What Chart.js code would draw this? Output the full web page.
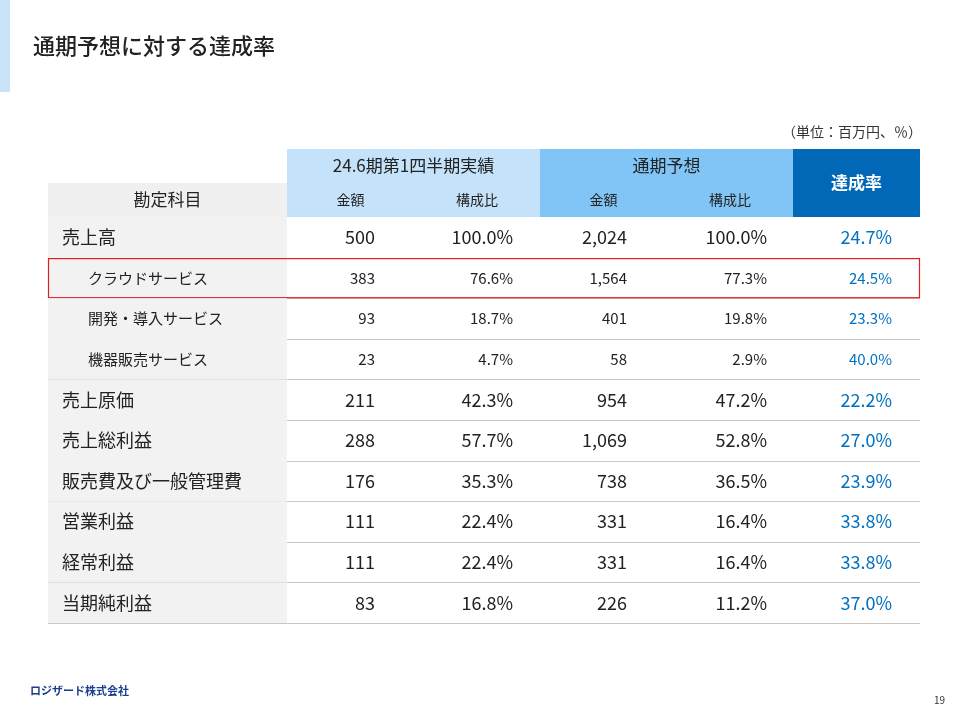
<!DOCTYPE html>
<html><head><meta charset="utf-8">
<script src="https://cdn.jsdelivr.net/npm/chart.js@4"></script>
<style>html,body{margin:0;padding:0;background:#fff}</style>
</head><body>
<canvas id="c" width="960" height="720"></canvas>
<script>
const title = "通期予想に対する達成率";
const unitNote = "（単位：百万円、％）";
const groupHeaders = ["24.6期第1四半期実績", "通期予想", "達成率"];
const subHeaders = ["勘定科目", "金額", "構成比", "金額", "構成比"];
const categories = ["売上高","クラウドサービス","開発・導入サービス","機器販売サービス","売上原価","売上総利益","販売費及び一般管理費","営業利益","経常利益","当期純利益"];
const isSub = [false,true,true,true,false,false,false,false,false,false];
const q1Amount = [500,383,93,23,211,288,176,111,111,83];
const q1Ratio = [100.0,76.6,18.7,4.7,42.3,57.7,35.3,22.4,22.4,16.8];
const fyAmount = [2024,1564,401,58,954,1069,738,331,331,226];
const fyRatio = [100.0,77.3,19.8,2.9,47.2,52.8,36.5,16.4,16.4,11.2];
const achieve = [24.7,24.5,23.3,40.0,22.2,27.0,23.9,33.8,33.8,37.0];
const highlightRow = "クラウドサービス";

const F = '"Noto Sans CJK JP","Noto Sans",sans-serif';
const fmtInt = v => v.toLocaleString('en-US');
const fmtPct = v => v.toFixed(1) + '%';

const tablePlugin = {
  id: 'table',
  afterDraw(chart) {
    const ctx = chart.ctx, y = chart.scales.y, a = chart.chartArea;
    const L = a.left, R = a.right;
    const cols = [L, 287, 414, 540, 667, 793, R]; // column edges
    const rowH = (a.bottom - a.top) / categories.length;
    ctx.save();
    // title area
    ctx.fillStyle = '#c9e4f8'; ctx.fillRect(0, 0, 10, 92);
    ctx.fillStyle = '#222'; ctx.font = '500 22px ' + F; ctx.textBaseline = 'middle';
    ctx.fillText(title, 33, 46);
    ctx.font = '14px ' + F; ctx.textAlign = 'right'; ctx.fillStyle = '#333';
    ctx.fillText(unitNote, 922, 132);
    // headers
    const h0 = 149, h1 = 183, h2 = a.top;
    ctx.fillStyle = '#c4e2f9'; ctx.fillRect(cols[1], h0, cols[3]-cols[1], h2-h0);
    ctx.fillStyle = '#80c5f5'; ctx.fillRect(cols[3], h0, cols[5]-cols[3], h2-h0);
    ctx.fillStyle = '#0068b7'; ctx.fillRect(cols[5], h0, cols[6]-cols[5], h2-h0);
    ctx.fillStyle = '#f0f0f0'; ctx.fillRect(cols[0], h1, cols[1]-cols[0], h2-h1);
    ctx.textAlign = 'center'; ctx.fillStyle = '#222';
    ctx.font = '17px ' + F;
    ctx.fillText(groupHeaders[0], (cols[1]+cols[3])/2, 166);
    ctx.fillText(groupHeaders[1], (cols[3]+cols[5])/2, 166);
    ctx.fillText(subHeaders[0], (cols[0]+cols[1])/2, 200);
    ctx.font = '14px ' + F;
    for (let i = 1; i <= 4; i++) ctx.fillText(subHeaders[i], (cols[i]+cols[i+1])/2, 200);
    ctx.fillStyle = '#fff'; ctx.font = 'bold 17px ' + F;
    ctx.fillText(groupHeaders[2], (cols[5]+cols[6])/2, 183);
    // rows
    categories.forEach((cat, i) => {
      const cy = y.getPixelForValue(i);
      const top = cy - rowH/2, bot = cy + rowH/2;
      ctx.fillStyle = '#f2f2f2'; ctx.fillRect(cols[0], top, cols[1]-cols[0], rowH);
      ctx.strokeStyle = '#c8c8c8'; ctx.lineWidth = 1;
      ctx.beginPath(); ctx.moveTo(L, Math.round(bot)+0.5); ctx.lineTo(R, Math.round(bot)+0.5); ctx.stroke();
      const sub = isSub[i];
      const fs = sub ? 15 : 18;
      ctx.font = fs + 'px ' + F; ctx.fillStyle = '#222'; ctx.textAlign = 'left';
      ctx.fillText(cat, sub ? 88 : 62, cy);
      ctx.textAlign = 'right';
      ctx.fillText(fmtInt(q1Amount[i]), 375, cy);
      ctx.fillText(fmtPct(q1Ratio[i]), 513, cy);
      ctx.fillText(fmtInt(fyAmount[i]), 627, cy);
      ctx.fillText(fmtPct(fyRatio[i]), 767, cy);
      ctx.fillStyle = '#0070c0';
      ctx.fillText(fmtPct(achieve[i]), 892, cy);
      if (cat === highlightRow) {
        ctx.strokeStyle = '#e02020'; ctx.lineWidth = 1.2;
        ctx.strokeRect(L+0.5, top+1, R-L-1, rowH-1.5);
      }
    });
    // footer
    ctx.textAlign = 'left'; ctx.fillStyle = '#1a3f8f'; ctx.font = 'bold 11px ' + F;
    ctx.fillText('ロジザード株式会社', 30, 691);
    ctx.textAlign = 'right'; ctx.fillStyle = '#333'; ctx.font = '10px ' + F;
    ctx.fillText('19', 945, 700);
    ctx.restore();
  }
};

new Chart(document.getElementById('c'), {
  type: 'bar',
  data: { labels: categories, datasets: [{ data: achieve.map(() => 0), backgroundColor: 'transparent' }] },
  options: {
    indexAxis: 'y', responsive: false, animation: false,
    layout: { padding: { left: 48, right: 40, top: 217, bottom: 97 } },
    plugins: { legend: { display: false }, tooltip: { enabled: false } },
    scales: { x: { display: false, min: 0, max: 1 }, y: { display: false } }
  },
  plugins: [tablePlugin]
});
</script>
</body></html>
